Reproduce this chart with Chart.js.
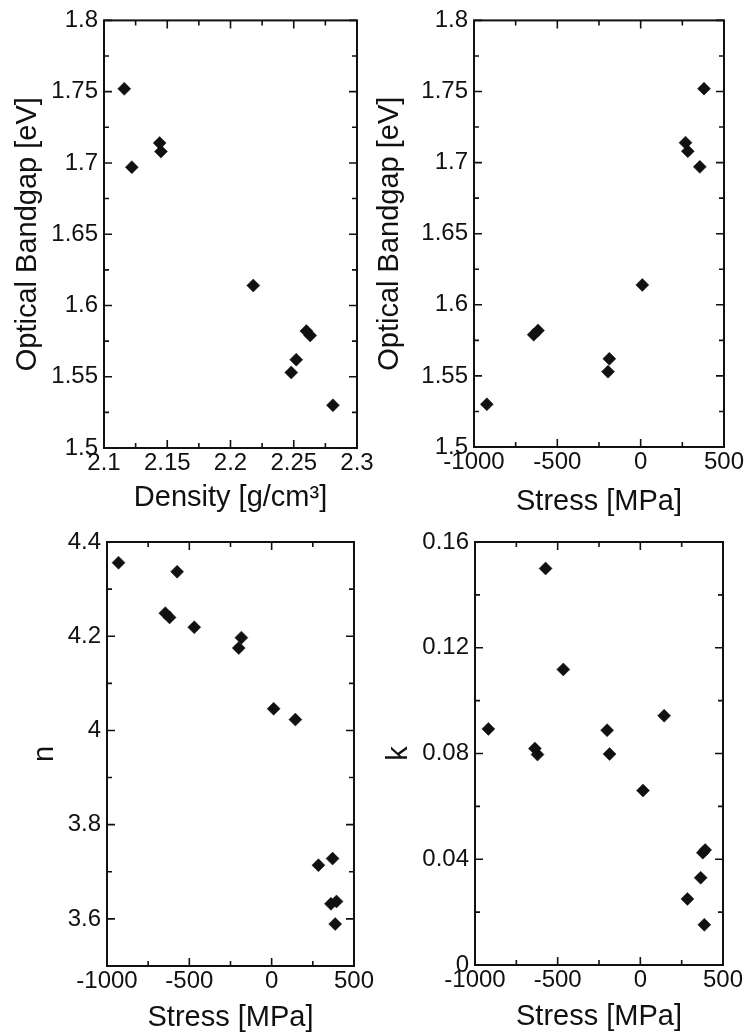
<!DOCTYPE html>
<html><head><meta charset="utf-8">
<script src="https://cdn.jsdelivr.net/npm/chart.js@4"></script>
<style>
html,body{margin:0;padding:0;background:#fff;}
body{width:749px;height:1036px;position:relative;overflow:hidden;}
canvas{position:absolute;}
</style></head><body>
<canvas id="c1" width="375" height="520" style="left:0;top:0"></canvas>
<canvas id="c2" width="374" height="520" style="left:375px;top:0"></canvas>
<canvas id="c3" width="375" height="516" style="left:0;top:520px"></canvas>
<canvas id="c4" width="374" height="516" style="left:375px;top:520px"></canvas>
<script>
// ---- data ----
const densityTop = [2.116, 2.122, 2.144, 2.145, 2.218, 2.260, 2.263, 2.252, 2.248, 2.281];
const stressTop  = [380, 355, 269, 283, 10, -616, -642, -188, -196, -923];
const bandgapTop = [1.752, 1.697, 1.714, 1.708, 1.614, 1.582, 1.579, 1.562, 1.553, 1.530];

const stressN = [-930, -574, -646, -620, -470, -184, -200, 12, 144, 284, 370, 360, 394, 386];
const nValues = [4.356, 4.337, 4.249, 4.240, 4.219, 4.197, 4.175, 4.046, 4.023, 3.714, 3.728, 3.632, 3.637, 3.589];

const stressK = [-919, -573, -638, -622, -466, -186, -201, 16, 144, 285, 365, 378, 392, 387];
const kValues = [0.0893, 0.150, 0.0819, 0.0796, 0.1118, 0.0798, 0.0888, 0.066, 0.0943, 0.025, 0.033, 0.0425, 0.0435, 0.0152];

// ---- tick labels and minor tick marks ----
const densityTicks = [2.1, 2.15, 2.2, 2.25, 2.3];
const densityMinor = [2.125, 2.175, 2.225, 2.275];
const bandgapTicks = [1.5, 1.55, 1.6, 1.65, 1.7, 1.75, 1.8];
const bandgapMinor = [1.525, 1.575, 1.625, 1.675, 1.725, 1.775];
const stressTicks = [-1000, -500, 0, 500];
const stressMinor = [-750, -250, 250];
const nTicks = [3.6, 3.8, 4, 4.2, 4.4];
const nMinor = [3.7, 3.9, 4.1, 4.3];
const kTicks = [0, 0.04, 0.08, 0.12, 0.16];
const kMinor = [0.02, 0.06, 0.1, 0.14];

const FONT = "'Liberation Sans', Arial, Helvetica, sans-serif";
const INK = '#111';

const framePlugin = {
  id: 'frame',
  afterDatasetsDraw(chart, args, o) {
    const {ctx, chartArea: a, scales: {x, y}} = chart;
    ctx.save();
    ctx.strokeStyle = INK;
    ctx.lineWidth = 1.6;
    const xt = (vals, len) => vals.forEach(v => {
      const p = x.getPixelForValue(v);
      ctx.beginPath();
      ctx.moveTo(p, a.bottom); ctx.lineTo(p, a.bottom - len);
      ctx.moveTo(p, a.top); ctx.lineTo(p, a.top + len);
      ctx.stroke();
    });
    const yt = (vals, len) => vals.forEach(v => {
      const p = y.getPixelForValue(v);
      ctx.beginPath();
      ctx.moveTo(a.left, p); ctx.lineTo(a.left + len, p);
      ctx.moveTo(a.right, p); ctx.lineTo(a.right - len, p);
      ctx.stroke();
    });
    xt(o.xMajor, 8); xt(o.xMinor, 5);
    yt(o.yMajor, 8); yt(o.yMinor, 5);
    ctx.lineWidth = 2;
    ctx.strokeRect(a.left, a.top, a.right - a.left, a.bottom - a.top);
    ctx.restore();
  }
};

function makeChart(id, cfg) {
  const ctx = document.getElementById(id);
  const pts = cfg.xs.map((v, i) => ({x: v, y: cfg.ys[i]}));
  return new Chart(ctx, {
    type: 'scatter',
    data: {datasets: [{
      data: pts,
      pointStyle: 'rectRot',
      pointRadius: 6.5,
      pointHoverRadius: 6.5,
      backgroundColor: INK,
      borderColor: INK,
      borderWidth: 0.5,
      clip: false
    }]},
    options: {
      responsive: false,
      animation: false,
      devicePixelRatio: 1,
      layout: {padding: {left: 0, right: cfg.padR, top: cfg.padT, bottom: 0}},
      plugins: {
        legend: {display: false},
        tooltip: {enabled: false},
        frame: {xMajor: cfg.xTicks, xMinor: cfg.xMinor, yMajor: cfg.yTicks, yMinor: cfg.yMinor}
      },
      scales: {
        x: {
          type: 'linear',
          min: cfg.xMin, max: cfg.xMax,
          grid: {display: false, drawTicks: false},
          border: {display: false},
          afterBuildTicks: s => { s.ticks = cfg.xTicks.map(v => ({value: v})); },
          afterFit: s => { s.height = cfg.xH; },
          ticks: {
            autoSkip: false, maxRotation: 0, minRotation: 0, padding: 1,
            color: INK, font: {family: FONT, size: 24},
            callback: v => String(v)
          },
          title: {display: true, text: cfg.xTitle, color: INK,
            font: {family: FONT, size: 29, lineHeight: 1},
            padding: {top: 0, bottom: cfg.xTitlePad}}
        },
        y: {
          type: 'linear',
          min: cfg.yMin, max: cfg.yMax,
          grid: {display: false, drawTicks: false},
          border: {display: false},
          afterBuildTicks: s => { s.ticks = cfg.yTicks.map(v => ({value: v})); },
          afterFit: s => { s.width = cfg.yW; },
          ticks: {
            autoSkip: false, padding: 6,
            color: INK, font: {family: FONT, size: 24},
            callback: v => String(v)
          },
          title: {display: true, text: cfg.yTitle, color: INK,
            font: {family: FONT, size: 29, lineHeight: 1},
            padding: {top: cfg.yTitlePad, bottom: 0}}
        }
      }
    },
    plugins: [framePlugin]
  });
}

makeChart('c1', {
  xs: densityTop, ys: bandgapTop,
  xMin: 2.1, xMax: 2.3, yMin: 1.5, yMax: 1.8,
  xTicks: densityTicks, xMinor: densityMinor, yTicks: bandgapTicks, yMinor: bandgapMinor,
  xTitle: 'Density [g/cm³]', yTitle: 'Optical Bandgap [eV]',
  yW: 104, padR: 18, padT: 17, xH: 72, yTitlePad: 13, xTitlePad: 8
});
makeChart('c2', {
  xs: stressTop, ys: bandgapTop,
  xMin: -1000, xMax: 500, yMin: 1.5, yMax: 1.8,
  xTicks: stressTicks, xMinor: stressMinor, yTicks: bandgapTicks, yMinor: bandgapMinor,
  xTitle: 'Stress [MPa]', yTitle: 'Optical Bandgap [eV]',
  yW: 99, padR: 25, padT: 17, xH: 73, yTitlePad: 0, xTitlePad: 4
});
makeChart('c3', {
  xs: stressN, ys: nValues,
  xMin: -1000, xMax: 500, yMin: 3.5, yMax: 4.4,
  xTicks: stressTicks, xMinor: stressMinor, yTicks: nTicks, yMinor: nMinor,
  xTitle: 'Stress [MPa]', yTitle: 'n',
  yW: 107, padR: 17, padT: 22, xH: 70, yTitlePad: 30, xTitlePad: 4
});
makeChart('c4', {
  xs: stressK, ys: kValues,
  xMin: -1000, xMax: 500, yMin: 0, yMax: 0.16,
  xTicks: stressTicks, xMinor: stressMinor, yTicks: kTicks, yMinor: kMinor,
  xTitle: 'Stress [MPa]', yTitle: 'k',
  yW: 100, padR: 26, padT: 22, xH: 71, yTitlePad: 9, xTitlePad: 5
});
</script>
</body></html>
